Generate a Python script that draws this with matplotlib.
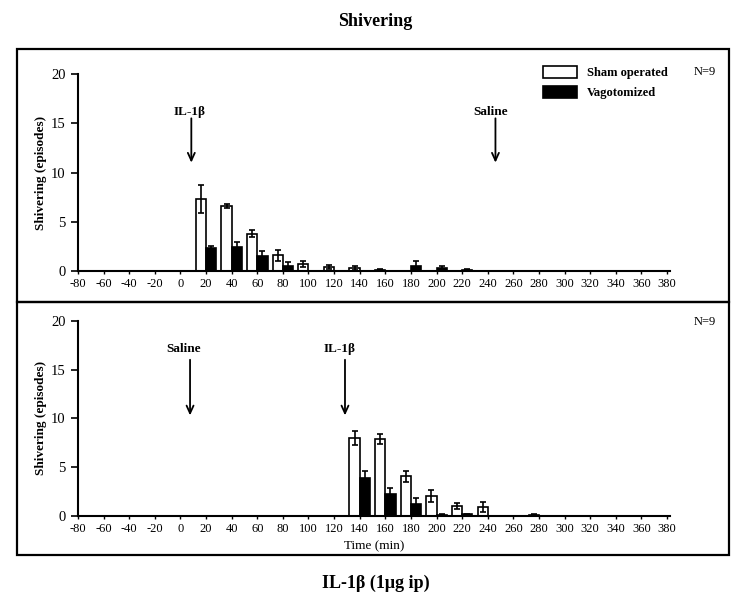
import matplotlib
matplotlib.use("Agg")
import matplotlib.pyplot as plt
from matplotlib.patches import Patch, Rectangle
import numpy as np

plt.rcParams['font.family'] = ['Liberation Serif', 'DejaVu Serif']

# ---- data ----
top_times = [20, 40, 60, 80, 100, 120, 140, 160, 180, 200, 220]
top_sham = [7.3, 6.6, 3.8, 1.6, 0.75, 0.4, 0.3, 0.15, 0, 0, 0]
top_sham_err = [1.45, 0.25, 0.37, 0.57, 0.3, 0.22, 0.2, 0.07, 0, 0, 0]
top_vago = [2.3, 2.4, 1.5, 0.5, 0, 0, 0, 0, 0.5, 0.33, 0.15]
top_vago_err = [0.2, 0.5, 0.5, 0.38, 0, 0, 0, 0, 0.5, 0.17, 0.05]

bot_times = [140, 160, 180, 200, 220, 240, 260, 280]
bot_sham = [8.0, 7.85, 4.05, 2.05, 1.02, 0.96, 0, 0.15]
bot_sham_err = [0.7, 0.5, 0.6, 0.6, 0.35, 0.5, 0, 0.05]
bot_vago = [3.85, 2.22, 1.23, 0.14, 0.17, 0, 0, 0]
bot_vago_err = [0.78, 0.6, 0.57, 0.05, 0.05, 0, 0, 0]

xticks = list(range(-80, 381, 20))
yticks = [0, 5, 10, 15, 20]

top_arrows = [("IL-1\u03b2", 7.5, 8.5), ("Saline", 242, 246)]
bot_arrows = [("Saline", 2.5, 7.5), ("IL-1\u03b2", 124.5, 128.5)]

W, H = 750, 602
fig = plt.figure(figsize=(7.5, 6.02), dpi=100)

def fx(px):
    return px / W

def fy(py):
    return 1 - py / H

# panel boxes
for (y0, y1) in [(49, 302), (302, 555)]:
    fig.add_artist(Rectangle((fx(17), fy(y1)), fx(729) - fx(17), fy(y0) - fy(y1),
                             transform=fig.transFigure, fill=False,
                             edgecolor='black', linewidth=1.6))

ax_left = fx(78)
ax_w = fx(669.6) - fx(78)
ax_top = fig.add_axes([ax_left, fy(271), ax_w, fy(74) - fy(271)])
ax_bot = fig.add_axes([ax_left, fy(516), ax_w, fy(320.7) - fy(516)])

bw = 8
off = 4

def draw(ax, times, sham, sham_err, vago, vago_err, arrows, text_y, arr_y0, arr_y1):
    t = np.array(times, dtype=float)
    ax.bar(t - off, sham, width=bw, color='white', edgecolor='black', linewidth=1.2, zorder=2)
    ax.bar(t + off, vago, width=bw, color='black', edgecolor='black', linewidth=1.2, zorder=2)
    se = np.array(sham_err); ve = np.array(vago_err)
    m = se > 0
    ax.errorbar((t - off)[m], np.array(sham)[m], yerr=se[m], fmt='none', ecolor='black',
                elinewidth=1.2, capsize=2, capthick=1.2, zorder=3)
    m = ve > 0
    ax.errorbar((t + off)[m], np.array(vago)[m], yerr=ve[m], fmt='none', ecolor='black',
                elinewidth=1.2, capsize=2, capthick=1.2, zorder=3)
    ax.set_xlim(-80, 382)
    ax.set_ylim(0, 20)
    ax.set_xticks(xticks)
    ax.set_xticklabels([str(v) for v in xticks], fontsize=9)
    ax.set_yticks(yticks)
    ax.set_yticklabels([str(v) for v in yticks], fontsize=10.5)
    ax.tick_params(axis='x', length=2, width=1, pad=3)
    ax.tick_params(axis='y', length=5, width=1.2, pad=4)
    for s in ['top', 'right']:
        ax.spines[s].set_visible(False)
    for s in ['left', 'bottom']:
        ax.spines[s].set_linewidth(1.5)
    ax.set_ylabel('Shivering (episodes)', fontsize=9.5, fontweight='bold', labelpad=3)
    ax.patch.set_alpha(0)
    for label, tx, ax_x in arrows:
        ax.text(tx, text_y, label, ha='center', va='center', fontsize=9.5, fontweight='bold')
        ax.annotate('', xy=(ax_x, arr_y1), xytext=(ax_x, arr_y0),
                    arrowprops=dict(arrowstyle='->,head_length=0.55,head_width=0.25',
                                    color='black', lw=1.3, shrinkA=0, shrinkB=0))

draw(ax_top, top_times, top_sham, top_sham_err, top_vago, top_vago_err,
     top_arrows, 16.1, 15.5, 11.0)
draw(ax_bot, bot_times, bot_sham, bot_sham_err, bot_vago, bot_vago_err,
     bot_arrows, 17.1, 16.0, 10.3)

ax_bot.set_xlabel('Time (min)', fontsize=9.5, labelpad=4)

handles = [Patch(facecolor='white', edgecolor='black', linewidth=1.2, label='Sham operated'),
           Patch(facecolor='black', edgecolor='black', linewidth=1.2, label='Vagotomized')]
fig.legend(handles=handles, loc='upper left', bbox_to_anchor=(fx(543), fy(66)),
           frameon=False, borderpad=0, borderaxespad=0, handlelength=2.7, handleheight=1.1,
           handletextpad=0.8, labelspacing=0.55, prop={'size': 9, 'weight': 'bold'})

fig.text(fx(705), fy(72), 'N=9', ha='center', va='center', fontsize=9)
fig.text(fx(705), fy(322), 'N=9', ha='center', va='center', fontsize=9)

fig.text(0.5, fy(22), 'Shivering', ha='center', va='center', fontsize=13, fontweight='bold')
fig.text(fx(376), fy(583), 'IL-1\u03b2 (1\u03bcg ip)', ha='center', va='center', fontsize=13, fontweight='bold')

fig.savefig('out.png', dpi=100)
